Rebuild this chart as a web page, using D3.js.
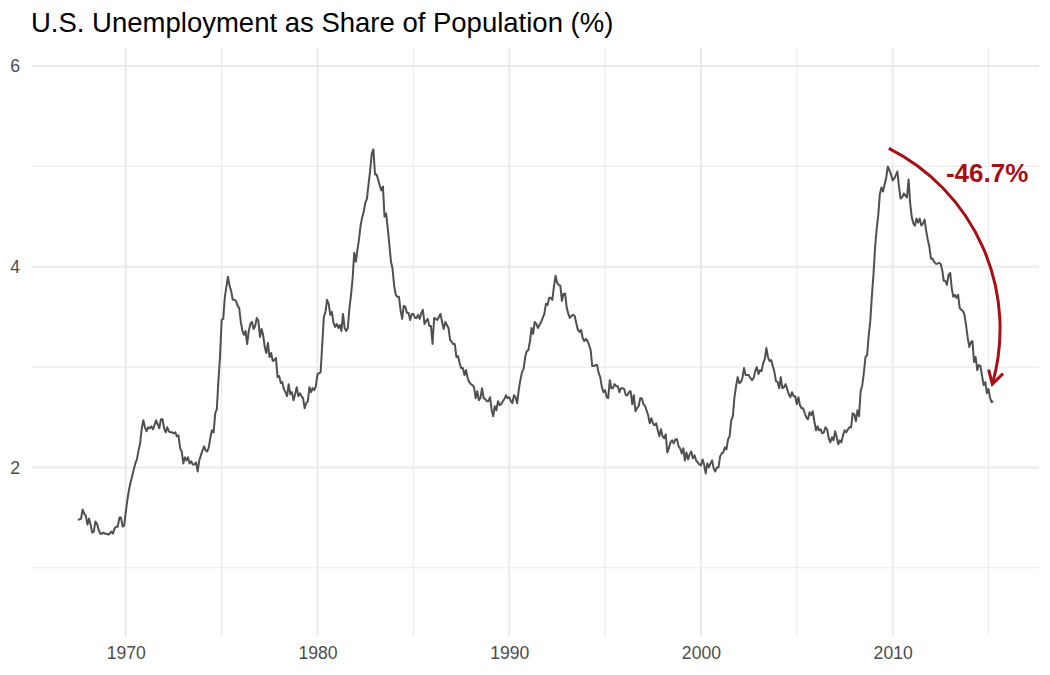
<!DOCTYPE html>
<html>
<head>
<meta charset="utf-8">
<script src="https://cdn.jsdelivr.net/npm/d3@7"></script>
<style>
  body { margin: 0; background: #fff; }
  svg { display: block; font-family: "Liberation Sans", Arial, Helvetica, sans-serif; }
</style>
</head>
<body>
<div id="chart"></div>
<script>
// unemployed as % of population, monthly, first value is July 1967
var startYear = 1967, startMonth = 7;

var share1960s = [
  1.48, 1.48, 1.49, 1.58, 1.54, 1.52,
  1.43, 1.49, 1.43, 1.35, 1.36, 1.46, 1.44, 1.38, 1.34, 1.34, 1.35, 1.34,
  1.34, 1.33, 1.34, 1.36, 1.34, 1.39, 1.41, 1.41, 1.50, 1.50, 1.41, 1.42
];
var share1970s = [
  1.56, 1.68, 1.77, 1.85, 1.91, 1.98, 2.04, 2.08, 2.17, 2.24, 2.39, 2.47,
  2.40, 2.36, 2.40, 2.39, 2.41, 2.38, 2.42, 2.47, 2.43, 2.39, 2.48, 2.48,
  2.39, 2.35, 2.40, 2.36, 2.35, 2.35, 2.34, 2.35, 2.31, 2.32, 2.19, 2.16,
  2.04, 2.10, 2.07, 2.10, 2.04, 2.06, 2.03, 2.03, 2.05, 1.96, 2.07, 2.12,
  2.17, 2.21, 2.17, 2.16, 2.20, 2.30, 2.37, 2.35, 2.54, 2.58, 2.87, 3.10,
  3.47, 3.48, 3.69, 3.80, 3.90, 3.81, 3.76, 3.67, 3.67, 3.66, 3.61, 3.59,
  3.45, 3.36, 3.32, 3.36, 3.23, 3.36, 3.43, 3.45, 3.38, 3.41, 3.49, 3.46,
  3.30, 3.38, 3.32, 3.20, 3.14, 3.24, 3.10, 3.14, 3.06, 3.07, 3.09, 2.90,
  2.91, 2.84, 2.85, 2.78, 2.75, 2.71, 2.83, 2.73, 2.75, 2.67, 2.73, 2.80,
  2.71, 2.74, 2.71, 2.69, 2.59, 2.64, 2.66, 2.80, 2.75, 2.79, 2.77, 2.81
];
var share1980s = [
  2.93, 2.94, 2.95, 3.23, 3.50, 3.55, 3.67, 3.63, 3.52, 3.55, 3.44, 3.40,
  3.43, 3.39, 3.42, 3.36, 3.53, 3.39, 3.36, 3.39, 3.59, 3.72, 3.89, 4.14,
  4.05, 4.17, 4.27, 4.41, 4.49, 4.55, 4.64, 4.68, 4.83, 4.96, 5.13, 5.17,
  4.92, 4.92, 4.87, 4.81, 4.76, 4.80, 4.50, 4.53, 4.38, 4.22, 4.05, 3.98,
  3.81, 3.72, 3.70, 3.70, 3.57, 3.48, 3.61, 3.60, 3.54, 3.54, 3.47, 3.53,
  3.53, 3.49, 3.49, 3.52, 3.48, 3.54, 3.57, 3.43, 3.46, 3.48, 3.41, 3.41,
  3.23, 3.49, 3.48, 3.47, 3.50, 3.53, 3.45, 3.38, 3.45, 3.42, 3.39, 3.27,
  3.25, 3.23, 3.23, 3.10, 3.11, 3.04, 2.99, 2.99, 2.92, 2.97, 2.89, 2.85,
  2.83, 2.82, 2.80, 2.69, 2.76, 2.67, 2.69, 2.79, 2.69, 2.68, 2.66, 2.66,
  2.70, 2.57, 2.51, 2.61, 2.57, 2.66, 2.62, 2.63, 2.66, 2.68, 2.72, 2.69
];
var share1990s = [
  2.70, 2.66, 2.64, 2.72, 2.70, 2.64, 2.77, 2.87, 2.95, 2.98, 3.10, 3.16,
  3.17, 3.26, 3.39, 3.33, 3.45, 3.43, 3.39, 3.42, 3.45, 3.49, 3.53, 3.63,
  3.62, 3.69, 3.69, 3.67, 3.80, 3.91, 3.84, 3.82, 3.81, 3.66, 3.73, 3.73,
  3.59, 3.53, 3.49, 3.51, 3.52, 3.51, 3.44, 3.37, 3.35, 3.37, 3.29, 3.26,
  3.28, 3.26, 3.22, 3.17, 3.01, 3.01, 3.02, 3.02, 2.94, 2.90, 2.80, 2.75,
  2.77, 2.70, 2.69, 2.87, 2.79, 2.79, 2.83, 2.81, 2.81, 2.75, 2.79, 2.79,
  2.78, 2.72, 2.72, 2.75, 2.76, 2.63, 2.72, 2.56, 2.59, 2.61, 2.69, 2.69,
  2.63, 2.61, 2.57, 2.52, 2.44, 2.49, 2.44, 2.42, 2.44, 2.37, 2.31, 2.38,
  2.31, 2.29, 2.33, 2.15, 2.19, 2.25, 2.27, 2.24, 2.28, 2.28, 2.21, 2.19,
  2.14, 2.19, 2.07, 2.15, 2.08, 2.13, 2.16, 2.09, 2.12, 2.07, 2.05, 2.03
];
var share2000s = [
  2.02, 2.08, 2.03, 1.94, 2.04, 2.00, 2.04, 2.07, 1.99, 1.96, 2.00, 2.00,
  2.11, 2.14, 2.15, 2.20, 2.18, 2.28, 2.31, 2.47, 2.51, 2.70, 2.81, 2.90,
  2.84, 2.85, 2.89, 2.99, 2.92, 2.92, 2.92, 2.89, 2.87, 2.89, 2.96, 3.00,
  2.93, 2.97, 2.96, 3.04, 3.08, 3.19, 3.10, 3.06, 3.07, 3.01, 2.95, 2.86,
  2.85, 2.79, 2.90, 2.79, 2.80, 2.83, 2.78, 2.73, 2.70, 2.75, 2.71, 2.71,
  2.63, 2.70, 2.62, 2.59, 2.59, 2.54, 2.50, 2.48, 2.55, 2.52, 2.56, 2.46,
  2.37, 2.41, 2.37, 2.38, 2.34, 2.35, 2.40, 2.38, 2.29, 2.25, 2.30, 2.27,
  2.36, 2.30, 2.23, 2.27, 2.25, 2.32, 2.37, 2.35, 2.38, 2.40, 2.40, 2.54,
  2.53, 2.46, 2.57, 2.51, 2.76, 2.82, 2.94, 3.10, 3.12, 3.31, 3.46, 3.71,
  3.93, 4.20, 4.37, 4.51, 4.72, 4.79, 4.75, 4.82, 4.89, 5.00, 4.96, 4.92
];
var share2010s = [
  4.86, 4.88, 4.91, 4.95, 4.80, 4.68, 4.69, 4.73, 4.71, 4.69, 4.87, 4.63,
  4.49, 4.43, 4.41, 4.48, 4.44, 4.48, 4.41, 4.43, 4.47, 4.36, 4.27, 4.20,
  4.08, 4.08, 4.05, 4.03, 4.03, 4.04, 4.03, 3.97, 3.86, 3.86, 3.82, 3.92,
  3.94, 3.78, 3.70, 3.72, 3.69, 3.72, 3.59, 3.57, 3.56, 3.52, 3.41, 3.29,
  3.20, 3.25, 3.26, 3.05, 3.10, 2.97, 3.02, 3.01, 2.91, 2.82, 2.85, 2.74,
  2.78, 2.69, 2.65, 2.66
];

// axis ticks
var majorYears = [1970, 1980, 1990, 2000, 2010];
var minorYears = [1975, 1985, 1995, 2005, 2015];
var majorY = [2, 4, 6];
var minorY = [1, 3, 5];
var yDomain = [0.32, 6.18];

// annotation: drop from the 2009 peak to the latest value
var changeLabel = "-46.7%";
var arrowFrom = { year: 2009.8, value: 5.18 };
var arrowTo = { year: 2015.2, value: 2.83 };
var labelAt = { year: 2014.93, value: 4.94 };

var titleText = "U.S. Unemployment as Share of Population (%)";

// ------------------------------------------------------------

var svgWidth = 1050;
var svgHeight = 675;

var margin = { top: 48, right: 11, bottom: 39, left: 32 };
var width = svgWidth - margin.left - margin.right;
var height = svgHeight - margin.top - margin.bottom;

var allShares = share1960s.concat(share1970s, share1980s, share1990s, share2000s, share2010s);
var data = allShares.map(function(v, i) {
  return { date: new Date(startYear, startMonth - 1 + i, 1), value: v };
});

function yearDate(y) {
  var yr = Math.floor(y);
  var start = new Date(yr, 0, 1), end = new Date(yr + 1, 0, 1);
  return new Date(+start + (y - yr) * (end - start));
}

var svg = d3.select("#chart")
  .append("svg")
  .attr("width", svgWidth)
  .attr("height", svgHeight);

var chartGroup = svg.append("g")
  .attr("transform", `translate(${margin.left}, ${margin.top})`);

// ggplot-like 5% expansion on x
var ext = d3.extent(data, d => +d.date);
var pad = (ext[1] - ext[0]) * 0.05;
var x = d3.scaleTime()
  .domain([new Date(ext[0] - pad), new Date(ext[1] + pad)])
  .range([0, width]);

var y = d3.scaleLinear()
  .domain(yDomain)
  .range([height, 0]);

// gridlines
var grid = chartGroup.append("g").attr("class", "grid");

grid.selectAll(".minor-y")
  .data(minorY)
  .enter().append("line")
  .attr("x1", 0).attr("x2", width)
  .attr("y1", d => y(d)).attr("y2", d => y(d))
  .attr("stroke", "#ebebeb").attr("stroke-width", 1.1);

grid.selectAll(".minor-x")
  .data(minorYears)
  .enter().append("line")
  .attr("x1", d => x(new Date(d, 0, 1))).attr("x2", d => x(new Date(d, 0, 1)))
  .attr("y1", 0).attr("y2", height)
  .attr("stroke", "#ebebeb").attr("stroke-width", 1.1);

grid.selectAll(".major-y")
  .data(majorY)
  .enter().append("line")
  .attr("x1", 0).attr("x2", width)
  .attr("y1", d => y(d)).attr("y2", d => y(d))
  .attr("stroke", "#ebebeb").attr("stroke-width", 2.1);

grid.selectAll(".major-x")
  .data(majorYears)
  .enter().append("line")
  .attr("x1", d => x(new Date(d, 0, 1))).attr("x2", d => x(new Date(d, 0, 1)))
  .attr("y1", 0).attr("y2", height)
  .attr("stroke", "#ebebeb").attr("stroke-width", 2.1);

// axes (text only, like theme_minimal)
var bottomAxis = d3.axisBottom(x)
  .tickValues(majorYears.map(d => new Date(d, 0, 1)))
  .tickFormat(d3.timeFormat("%Y"))
  .tickSize(0)
  .tickPadding(11);

var leftAxis = d3.axisLeft(y)
  .tickValues(majorY)
  .tickFormat(d3.format("d"))
  .tickSize(0)
  .tickPadding(12);

var xAxisG = chartGroup.append("g")
  .attr("transform", `translate(0, ${height})`)
  .call(bottomAxis);

var yAxisG = chartGroup.append("g")
  .call(leftAxis);

[xAxisG, yAxisG].forEach(function(g) {
  g.select(".domain").remove();
  g.selectAll("text")
    .attr("fill", "#4d4d4d")
    .style("font-size", "17.6px")
    .style("font-family", "'Liberation Sans', Arial, sans-serif");
});

// the series
var line = d3.line()
  .x(d => x(d.date))
  .y(d => y(d.value));

chartGroup.append("path")
  .datum(data)
  .attr("fill", "none")
  .attr("stroke", "#505050")
  .attr("stroke-width", 2)
  .attr("stroke-linejoin", "round")
  .attr("d", line);

// curved arrow
var red = "#a50f15";
var p0 = [x(yearDate(arrowFrom.year)), y(arrowFrom.value)];
var p1 = [x(yearDate(arrowTo.year)), y(arrowTo.value)];
var chord = Math.hypot(p1[0] - p0[0], p1[1] - p0[1]);
var curvature = 0.36;
var sag = curvature * chord / 2;
var radius = (chord * chord / 4 + sag * sag) / (2 * sag);

var arc = chartGroup.append("path")
  .attr("d", `M${p0[0]},${p0[1]} A${radius},${radius} 0 0 1 ${p1[0]},${p1[1]}`)
  .attr("fill", "none")
  .attr("stroke", red)
  .attr("stroke-width", 3);

var len = arc.node().getTotalLength();
var back = arc.node().getPointAtLength(len - 2);
var ang = Math.atan2(p1[1] - back.y, p1[0] - back.x);
var headLen = 15, headAng = Math.PI / 6;
var h1 = [p1[0] - headLen * Math.cos(ang - headAng), p1[1] - headLen * Math.sin(ang - headAng)];
var h2 = [p1[0] - headLen * Math.cos(ang + headAng), p1[1] - headLen * Math.sin(ang + headAng)];

chartGroup.append("path")
  .attr("d", `M${h1[0]},${h1[1]} L${p1[0]},${p1[1]} L${h2[0]},${h2[1]}`)
  .attr("fill", "none")
  .attr("stroke", red)
  .attr("stroke-width", 3)
  .attr("stroke-linejoin", "miter")
  .attr("stroke-linecap", "butt");

chartGroup.append("text")
  .attr("x", x(yearDate(labelAt.year)))
  .attr("y", y(labelAt.value))
  .attr("dy", "0.35em")
  .attr("text-anchor", "middle")
  .attr("fill", red)
  .style("font-weight", "bold")
  .style("font-size", "26px")
  .text(changeLabel);

// title
svg.append("text")
  .attr("x", 31)
  .attr("y", 32)
  .attr("fill", "#000")
  .style("font-size", "27.5px")
  .text(titleText);
</script>
</body>
</html>
